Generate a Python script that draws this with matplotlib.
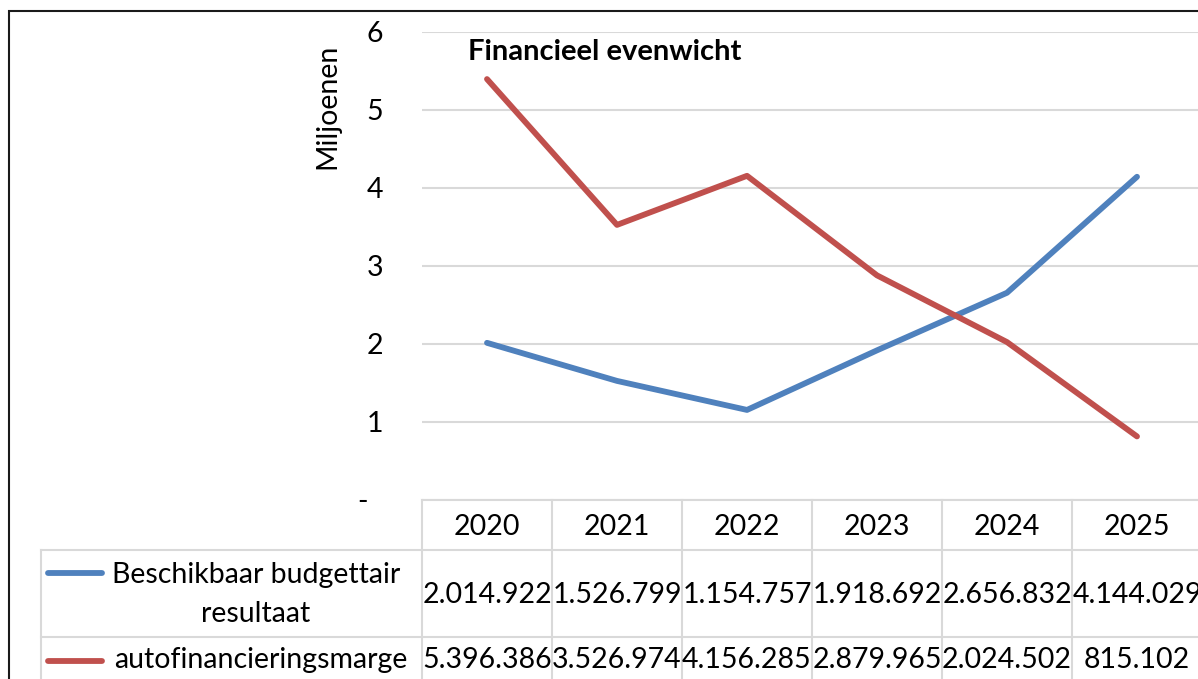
import matplotlib
matplotlib.use("Agg")
import matplotlib.pyplot as plt
import matplotlib.transforms as mtransforms
from matplotlib.patches import Rectangle

# gegevens
jaren = ["2020", "2021", "2022", "2023", "2024", "2025"]
budgettair_resultaat = [2014922, 1526799, 1154757, 1918692, 2656832, 4144029]
autofinancieringsmarge = [5396386, 3526974, 4156285, 2879965, 2024502, 815102]
reeks_namen = ["Beschikbaar budgettair\nresultaat", "autofinancieringsmarge"]
y_ticks = [0, 1, 2, 3, 4, 5, 6]
y_labels = ["-", "1", "2", "3", "4", "5", "6"]
titel = "Financieel evenwicht"
y_titel = "Miljoenen"

blauw = "#4F81BD"
rood = "#C0504D"
grijs = "#D9D9D9"

W, H = 1198, 679
fs = 20.5
plt.rcParams["font.family"] = ["Lato", "DejaVu Sans"]

fig = plt.figure(figsize=(W / 100, H / 100), dpi=100)


def fx(x):
    return x / W


def fy(y):
    return 1 - y / H


# overlay in pixels voor de tabel
tab = fig.add_axes([0, 0, 1, 1], zorder=0)
tab.set_xlim(0, W)
tab.set_ylim(H, 0)
tab.axis("off")

ax = fig.add_axes([fx(422), fy(500), 780 / W, (500 - 32) / H], zorder=1)
ax.patch.set_alpha(0)
x = list(range(len(jaren)))
ax.set_xlim(-0.5, len(jaren) - 0.5)
ax.set_ylim(0, 6)
for s in ax.spines.values():
    s.set_visible(False)
ax.set_xticks([])
ax.set_yticks(y_ticks)
ax.set_yticklabels(y_labels)
ax.tick_params(axis="y", length=0, pad=28, labelsize=fs, labelcolor="black")
ax.grid(axis="y", color=grijs, lw=1.5)
ax.set_axisbelow(True)

ax.plot(x, [v / 1e6 for v in budgettair_resultaat], color=blauw, lw=4.2,
        solid_capstyle="round", solid_joinstyle="round", clip_on=False)
ax.plot(x, [v / 1e6 for v in autofinancieringsmarge], color=rood, lw=4.2,
        solid_capstyle="round", solid_joinstyle="round", clip_on=False)

# nul-label wat naar links (zoals boekhoudnotatie)
lab0 = ax.get_yticklabels()[0]
lab0.set_transform(lab0.get_transform() +
                   mtransforms.ScaledTranslation(-0.15, 0, fig.dpi_scale_trans))

fig.text(fx(605), fy(52), titel, ha="center", va="center", fontsize=21,
         fontweight="bold")
fig.text(fx(327), fy(106), y_titel, ha="center", va="center", rotation=90,
         fontsize=fs)

# gegevenstabel
bt = mtransforms.blended_transform_factory(ax.transData, tab.transData)
n = len(jaren)
tab.plot([-0.5, n - 0.5], [500, 500], color=grijs, lw=1.5, transform=bt)
for yy in [550, 637]:
    tab.plot([41, W + 10], [yy, yy], color=grijs, lw=1.5, clip_on=False)
tab.plot([41, 41], [550, H + 10], color=grijs, lw=1.5, clip_on=False)
for i in range(n + 1):
    tab.plot([i - 0.5, i - 0.5], [500, H + 10], color=grijs, lw=1.5,
             transform=bt, clip_on=False)

for i, jaar in enumerate(jaren):
    tab.text(i, 535, jaar, ha="center", va="baseline", fontsize=fs,
             transform=bt)
    tab.text(i, 603, f"{budgettair_resultaat[i]:,}".replace(",", "."),
             ha="center", va="baseline", fontsize=fs, transform=bt)
    tab.text(i, 668, f"{autofinancieringsmarge[i]:,}".replace(",", "."),
             ha="center", va="baseline", fontsize=fs, transform=bt)

regel1, regel2 = reeks_namen[0].split("\n")
tab.text(256, 583, regel1, ha="center", va="baseline", fontsize=fs)
tab.text(256, 622, regel2, ha="center", va="baseline", fontsize=fs)
tab.text(261, 668, reeks_namen[1], ha="center", va="baseline", fontsize=fs)

tab.plot([48, 102], [573, 573], color=blauw, lw=4.2, solid_capstyle="round")
tab.plot([48, 102], [661, 661], color=rood, lw=4.2, solid_capstyle="round")

# kader van de grafiek
fig.add_artist(Rectangle((fx(9), fy(H + 20)), 1.2, fy(11) - fy(H + 20),
                         transform=fig.transFigure, fill=False,
                         ec="#1a1a1a", lw=1.5))

fig.savefig("out.png", dpi=100)
